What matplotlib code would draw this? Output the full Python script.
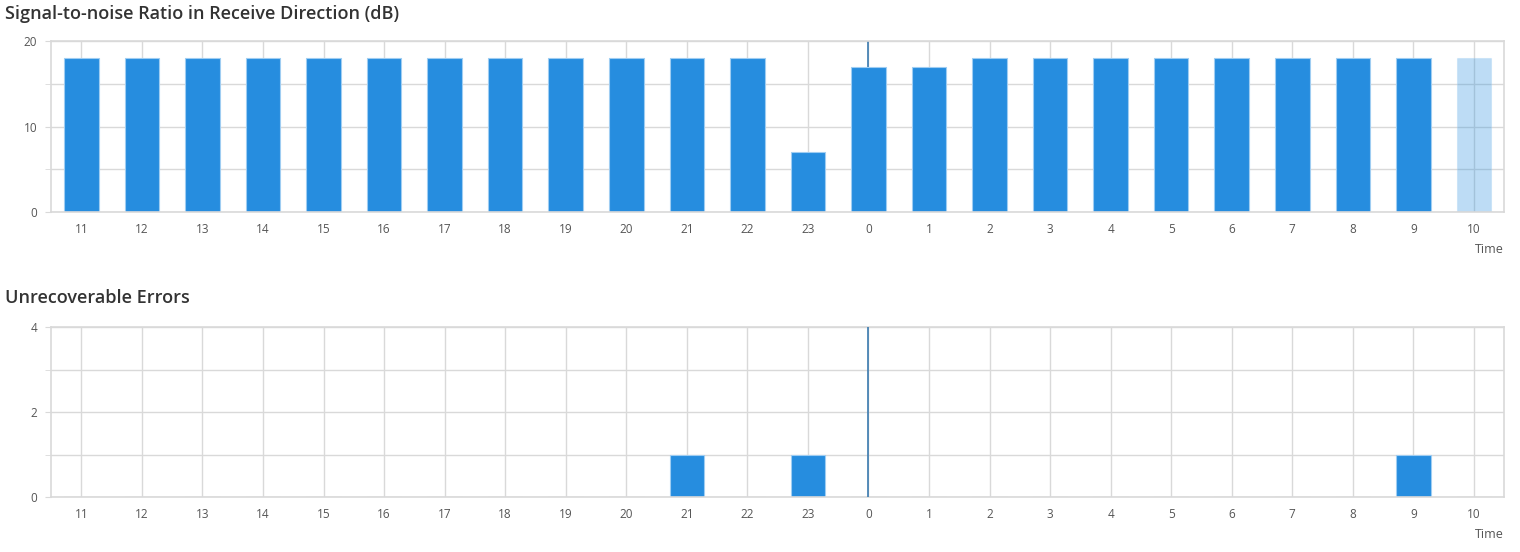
import numpy as np
import matplotlib.pyplot as plt

# hours shown on the x axis (last 24h, oldest first)
hours = [11, 12, 13, 14, 15, 16, 17, 18, 19, 20, 21, 22, 23,
         0, 1, 2, 3, 4, 5, 6, 7, 8, 9, 10]
snr_db = [18, 18, 18, 18, 18, 18, 18, 18, 18, 18, 18, 18, 7,
          17, 17, 18, 18, 18, 18, 18, 18, 18, 18, 18]
errors = [0, 0, 0, 0, 0, 0, 0, 0, 0, 0, 1, 0, 1,
          0, 0, 0, 0, 0, 0, 0, 0, 0, 1, 0]
current_hour = 10   # partial hour, drawn pale
midnight = 0        # marker line

bar_color = '#268ddf'
grid_color = '#d9d9d9'
text_color = '#555555'

plt.rcParams['font.family'] = ['Open Sans', 'DejaVu Sans']

fig = plt.figure(figsize=(15.2, 5.52), dpi=100)
ax1 = fig.add_axes([0.0336, 0.6159, 0.956, 0.3098])
ax2 = fig.add_axes([0.0336, 0.0996, 0.956, 0.3080])

x = np.arange(len(hours))


def style_axis(ax, ymax, major, minor):
    ax.set_xlim(-0.5, len(hours) - 0.5)
    ax.set_ylim(0, ymax)
    ax.set_xticks(x)
    ax.set_xticklabels([str(h) for h in hours])
    ax.set_yticks(np.arange(0, ymax + 0.01, major))
    ax.set_yticks(np.arange(0, ymax + 0.01, minor), minor=True)
    ax.grid(True, which='both', color=grid_color, linewidth=1)
    ax.set_axisbelow(True)
    for s in ax.spines.values():
        s.set_color(grid_color)
        s.set_linewidth(1.2)
    ax.tick_params(axis='x', length=0, pad=8, labelsize=8.5, labelcolor=text_color)
    ax.tick_params(axis='y', which='both', length=4, color=grid_color,
                   labelsize=8.5, labelcolor=text_color, pad=6)
    ax.text(1.0, -0.18, 'Time', transform=ax.transAxes, ha='right', va='top',
            fontsize=9, color=text_color)


# top chart: SNR
alphas = [0.3 if h == current_hour else 1.0 for h in hours]
bars = ax1.bar(x, snr_db, width=0.57, color=bar_color, edgecolor='#9fcdf2',
               linewidth=0.8, zorder=2)
for b, a in zip(bars, alphas):
    b.set_alpha(a)
style_axis(ax1, 20, 10, 5)
ax1.axvline(hours.index(midnight), color='#3b7bb0', linewidth=1.2, zorder=1)

# bottom chart: errors
ax2.bar(x, errors, width=0.57, color=bar_color, edgecolor='#9fcdf2', linewidth=0.8, zorder=2)
style_axis(ax2, 4, 2, 1)
ax2.axvline(hours.index(midnight), color='#3b7bb0', linewidth=1.2, zorder=3)

fig.text(0.003, 0.974, 'Signal-to-noise Ratio in Receive Direction (dB)',
         fontsize=13, fontweight='semibold', color='#333333', va='center')
fig.text(0.003, 0.461, 'Unrecoverable Errors',
         fontsize=13, fontweight='semibold', color='#333333', va='center')

fig.savefig('out.png', dpi=100)
